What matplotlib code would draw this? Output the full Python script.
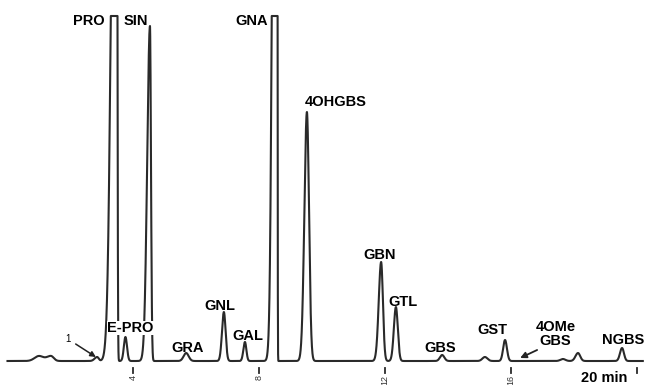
import numpy as np
import matplotlib
matplotlib.use('Agg')
import matplotlib.pyplot as plt

plt.rcParams['font.family'] = ['Liberation Sans', 'DejaVu Sans']

# peak table (minutes, detector units, left/right widths)
peak_names = ['', '', '1', 'PRO', 'E-PRO', 'SIN', 'GRA', 'GNL', 'GAL', 'GNA', '4OHGBS',
              'GBN', 'GTL', 'GBS', '', 'GST', '', '', 'NGBS']
peak_rt = [1.00, 1.38, 2.85, 3.47, 3.75, 4.53, 5.68, 6.88, 7.55, 8.57, 9.52,
           11.88, 12.35, 13.82, 15.18, 15.82, 17.66, 18.14, 19.54]
peak_height = [5, 5, 4, 1000, 24, 335, 8, 49, 19, 2000, 249,
               99, 54, 6, 4, 21, 2, 8, 13]
peak_sig_l = [0.14, 0.13, 0.08, 0.13, 0.05, 0.088, 0.08, 0.06, 0.05, 0.092, 0.08,
              0.076, 0.065, 0.07, 0.08, 0.06, 0.08, 0.08, 0.065]
peak_sig_r = [0.14, 0.09, 0.05, 0.019, 0.05, 0.032, 0.08, 0.055, 0.045, 0.01, 0.067,
              0.057, 0.06, 0.07, 0.08, 0.06, 0.08, 0.07, 0.06]
pen_limit = 345  # recorder full scale

tick_min = [4, 8, 12, 16, 20]
tick_text = ['4', '8', '12', '16', '']

t = np.linspace(0, 20.2, 8000)
signal = np.zeros_like(t)
for rt, h, sl, sr in zip(peak_rt, peak_height, peak_sig_l, peak_sig_r):
    s = np.where(t < rt, sl, sr)
    signal += h * np.exp(-0.5 * ((t - rt) / s) ** 2)
signal = np.minimum(signal, pen_limit)

fig = plt.figure(figsize=(6.57, 3.85), dpi=100)
ax = fig.add_axes([0, 0, 1, 1])
ax.plot(t, signal, color='#2a2a2a', lw=1.5, zorder=2)
ax.set_xlim(-7.5 / 31.45, (657 - 7.5) / 31.45)
ax.set_ylim(-24, 361)
ax.axis('off')

# time marks under the baseline
for m, lab in zip(tick_min, tick_text):
    ax.plot([m, m], [-7, -12], color='#2a2a2a', lw=1.3)
    if lab:
        ax.text(m, -14, lab, rotation=90, fontsize=6.5, ha='center', va='top', color='#333333')
ax.text(18.22, -17, '20 min', fontsize=10.5, fontweight='bold', va='center')

# compound labels
lab_kw = dict(fontsize=10.5, fontweight='bold', va='center', zorder=3)
ax.text(2.08, 340, 'PRO', **lab_kw)
ax.text(3.70, 340, 'SIN', **lab_kw)
ax.text(7.26, 340, 'GNA', **lab_kw)
ax.text(9.46, 259, '4OHGBS', **lab_kw)
ax.text(11.30, 106, 'GBN', **lab_kw)
ax.text(12.10, 59, 'GTL', **lab_kw)
ax.text(3.17, 33, 'E-PRO', bbox=dict(facecolor='white', edgecolor='none', pad=0.3), **lab_kw)
ax.text(5.21, 13, 'GRA', **lab_kw)
ax.text(6.26, 55, 'GNL', **lab_kw)
ax.text(7.15, 25, 'GAL', **lab_kw)
ax.text(13.25, 13, 'GBS', **lab_kw)
ax.text(14.94, 31, 'GST', **lab_kw)
ax.text(17.43, 27, '4OMe\nGBS', fontsize=10.5, fontweight='bold', ha='center', va='center',
        linespacing=0.95)
ax.text(18.90, 21, 'NGBS', **lab_kw)

ax.annotate('1', xy=(2.81, 4), xytext=(1.92, 22), fontsize=7, va='center', ha='center',
            arrowprops=dict(arrowstyle='-|>', color='#222222', lw=1.1, shrinkA=2, shrinkB=0,
                            mutation_scale=8))
ax.annotate('', xy=(16.30, 3), xytext=(16.84, 11),
            arrowprops=dict(arrowstyle='-|>', color='#222222', lw=1.3, shrinkA=0, shrinkB=0,
                            mutation_scale=9))

fig.savefig('out.png', dpi=100)
